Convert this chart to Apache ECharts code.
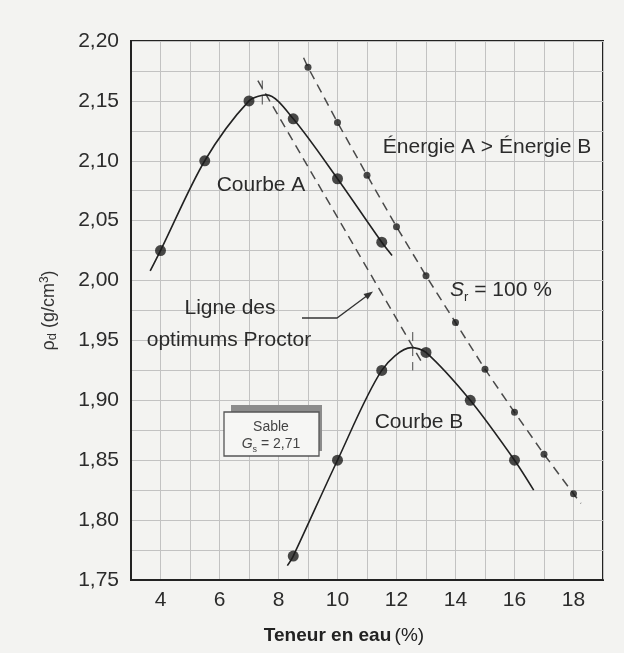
<!DOCTYPE html>
<html>
<head>
<meta charset="utf-8">
<script src="https://cdn.jsdelivr.net/npm/echarts@6/dist/echarts.min.js"></script>
<style>
  html, body { margin: 0; padding: 0; background: #f3f3f1; }
  #chart { width: 624px; height: 653px; }
</style>
</head>
<body>
<div id="chart"></div>
<script>
// points mesurés (teneur en eau %, rho_d g/cm3)
var pointsA = [[4, 2.025], [5.5, 2.10], [7, 2.15], [8.5, 2.135], [10, 2.085], [11.5, 2.032]];
var pointsB = [[8.5, 1.77], [10, 1.85], [11.5, 1.925], [13, 1.94], [14.5, 1.90], [16, 1.85]];
// tracé des courbes (avec extrémités et sommet)
var courbeA = [[3.65, 2.008], [4, 2.025], [5.5, 2.10], [7, 2.15], [7.6, 2.155], [8.5, 2.135], [10, 2.085], [11.5, 2.032], [11.85, 2.021]];
var courbeB = [[8.3, 1.762], [8.5, 1.77], [10, 1.85], [11.5, 1.925], [12.5, 1.944], [13, 1.94], [14.5, 1.90], [16, 1.85], [16.65, 1.825]];
// courbe de saturation Sr = 100 %
var saturation = [[9, 2.178], [10, 2.132], [11, 2.088], [12, 2.045], [13, 2.004], [14, 1.965], [15, 1.926], [16, 1.890], [17, 1.855], [18, 1.822]];
var saturationTrace = [[8.85, 2.186]].concat(saturation, [[18.25, 1.814]]);
// ligne des optimums Proctor
var optimums = [[7.3, 2.167], [12.9, 1.930]];
var repereA = [[7.45, 2.167], [7.45, 2.142]];
var repereB = [[12.55, 1.957], [12.55, 1.925]];
var xTicks = [4, 6, 8, 10, 12, 14, 16, 18];

var font = '"Liberation Sans", Arial, sans-serif';
var ink = '#2b2b2b';

var myChart = echarts.init(document.getElementById('chart'));

var dashed = function (data, w) {
    return {
        type: 'line', data: data, symbol: 'none', silent: true, z: 3,
        lineStyle: { color: '#4a4a4a', width: w || 1.5, type: [9, 6] }
    };
};

var option = {
    backgroundColor: '#f3f3f1',
    animation: false,
    grid: {
        left: 131, right: 21, top: 41, bottom: 73,
        show: true, borderColor: '#222', borderWidth: 2
    },
    xAxis: {
        type: 'value', min: 3, max: 19, interval: 1,
        axisLine: { show: true, lineStyle: { color: '#222', width: 2 } },
        axisTick: { show: false },
        splitLine: { show: true, lineStyle: { color: '#c2c2c2', width: 1 } },
        axisLabel: {
            margin: 10, fontSize: 21, color: ink, fontFamily: font,
            formatter: function (v) { return xTicks.indexOf(v) >= 0 ? String(v) : ''; }
        },
        name: '{b|Teneur en eau} {r|(%)}',
        nameLocation: 'middle', nameGap: 46,
        nameTextStyle: {
            padding: [0, 46, 0, 0],
            rich: {
                b: { fontSize: 19, fontWeight: 'bold', color: '#222', fontFamily: font },
                r: { fontSize: 19, color: '#222', fontFamily: font }
            }
        }
    },
    yAxis: {
        type: 'value', min: 1.75, max: 2.20, interval: 0.025,
        axisLine: { show: true, lineStyle: { color: '#222', width: 2 } },
        axisTick: { show: false },
        splitLine: { show: true, lineStyle: { color: '#c2c2c2', width: 1 } },
        axisLabel: {
            margin: 12, fontSize: 21, color: ink, fontFamily: font,
            formatter: function (v) {
                var k = Math.round(v * 1000);
                return k % 50 === 0 ? (k / 1000).toFixed(2).replace('.', ',') : '';
            }
        },
        name: '{n|ρ}{sub|d}{n| (g/cm}{sup|3}{n|)}',
        nameLocation: 'middle', nameGap: 72, nameRotate: 90,
        nameTextStyle: {
            rich: {
                n: { fontSize: 18, color: '#333', fontFamily: font, lineHeight: 20 },
                sub: { fontSize: 13, color: '#333', fontFamily: font, verticalAlign: 'bottom', lineHeight: 20 },
                sup: { fontSize: 12, color: '#333', fontFamily: font, verticalAlign: 'top', lineHeight: 20 }
            }
        }
    },
    series: [
        {
            type: 'line', data: courbeA, symbol: 'none', smooth: 0.3, z: 4,
            lineStyle: { color: '#222', width: 1.6 }
        },
        {
            type: 'line', data: courbeB, symbol: 'none', smooth: 0.3, z: 4,
            lineStyle: { color: '#222', width: 1.6 }
        },
        dashed(saturationTrace),
        dashed(optimums),
        dashed(repereA, 1),
        dashed(repereB, 1),
        {
            type: 'scatter', data: pointsA.concat(pointsB), symbolSize: 11, z: 5,
            itemStyle: { color: '#1c1c1c' }
        },
        {
            type: 'scatter', data: saturation, symbolSize: 7, z: 5,
            itemStyle: { color: '#1c1c1c' }
        }
    ],
    graphic: [
        { type: 'text', x: 261, y: 185, z: 10, style: { text: 'Courbe A', font: '21px ' + font, fill: ink, align: 'center', verticalAlign: 'middle' } },
        { type: 'text', x: 487, y: 147, z: 10, style: { text: 'Énergie A > Énergie B', font: '21px ' + font, fill: ink, align: 'center', verticalAlign: 'middle' } },
        { type: 'text', x: 419, y: 422, z: 10, style: { text: 'Courbe B', font: '21px ' + font, fill: ink, align: 'center', verticalAlign: 'middle' } },
        { type: 'text', x: 230, y: 308, z: 10, style: { text: 'Ligne des', font: '21px ' + font, fill: ink, align: 'center', verticalAlign: 'middle' } },
        { type: 'text', x: 229, y: 340, z: 10, style: { text: 'optimums Proctor', font: '21px ' + font, fill: ink, align: 'center', verticalAlign: 'middle' } },
        {
            type: 'text', x: 450, y: 290, z: 10,
            style: {
                text: '{i|S}{sub|r}{n| = 100 %}', align: 'left', verticalAlign: 'middle',
                rich: {
                    i: { fontSize: 21, fontStyle: 'italic', fill: ink, fontFamily: font, lineHeight: 24 },
                    sub: { fontSize: 13, fill: ink, fontFamily: font, verticalAlign: 'bottom', lineHeight: 24, padding: [0, 0, -2, 0] },
                    n: { fontSize: 21, fill: ink, fontFamily: font, lineHeight: 24 }
                }
            }
        },
        // flèche vers la ligne des optimums
        { type: 'polyline', z: 10, shape: { points: [[302, 318], [337, 318], [368, 295]] }, style: { stroke: '#333', lineWidth: 1.3, fill: null } },
        { type: 'polygon', z: 10, shape: { points: [[373, 291.5], [367.7, 299.6], [363.5, 294.0]] }, style: { fill: '#333' } },
        // encadré Sable
        { type: 'rect', z: 10, shape: { x: 231, y: 405, width: 91, height: 46 }, style: { fill: '#8c8c8c' } },
        { type: 'rect', z: 11, shape: { x: 224, y: 412, width: 95, height: 44 }, style: { fill: '#f6f6f4', stroke: '#555', lineWidth: 1.3 } },
        { type: 'text', x: 271, y: 427, z: 12, style: { text: 'Sable', font: '14px ' + font, fill: '#444', align: 'center', verticalAlign: 'middle' } },
        {
            type: 'text', x: 271, y: 444, z: 12,
            style: {
                text: '{i|G}{sub|s}{n| = 2,71}', align: 'center', verticalAlign: 'middle',
                rich: {
                    i: { fontSize: 14, fontStyle: 'italic', fill: '#444', fontFamily: font, lineHeight: 16 },
                    sub: { fontSize: 9, fill: '#444', fontFamily: font, verticalAlign: 'bottom', lineHeight: 16, padding: [0, 0, -2, 0] },
                    n: { fontSize: 14, fill: '#444', fontFamily: font, lineHeight: 16 }
                }
            }
        }
    ]
};
myChart.setOption(option);
</script>
</body>
</html>
